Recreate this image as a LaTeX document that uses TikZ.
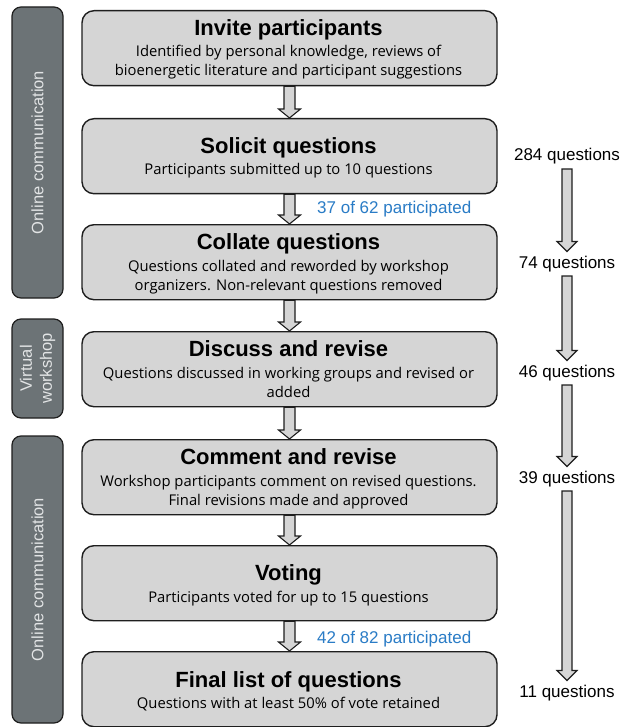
\documentclass[tikz,border=0pt]{standalone}
\usepackage{fontspec}
\setmainfont{Open Sans}
\newfontfamily\arialfont{Liberation Sans}
\usetikzlibrary{calc}
\definecolor{boxfill}{HTML}{D5D5D5}
\definecolor{boxline}{HTML}{1E1E1E}
\definecolor{sidefill}{HTML}{6C7376}
\definecolor{sidetext}{HTML}{E2E4E5}
\definecolor{bluetxt}{HTML}{2A7CC6}
\definecolor{arrowfill}{HTML}{D5D5D5}
\tikzset{
  stage/.style={draw=boxline, fill=boxfill, line width=1.4pt, rounded corners=12pt,
    minimum width=415pt, minimum height=75pt, inner sep=0pt, anchor=north},
  sidebar/.style={draw=boxline, fill=sidefill, line width=1.2pt, rounded corners=9pt,
    inner sep=0pt, minimum width=51pt},
  sidelabel/.style={text=sidetext, font=\arialfont\fontsize{16.5}{20}\selectfont,
    rotate=90, align=center, inner sep=0pt},
  title/.style={anchor=base, font=\arialfont\bfseries\fontsize{22}{26}\selectfont, inner sep=0pt},
  desc/.style={anchor=base, font=\fontsize{14.8}{19.5}\selectfont, inner sep=0pt},
  count/.style={anchor=base, font=\arialfont\fontsize{17}{20}\selectfont, inner sep=0pt,
    text height=12.5pt, text depth=4pt, outer ysep=4pt},
  partic/.style={anchor=base west, text=bluetxt, font=\arialfont\fontsize{17}{20}\selectfont, inner sep=0pt},
  barrow/.style={draw=boxline, fill=arrowfill, line width=1.1pt, line join=miter},
}
% #1 from, #2 to, #3 shaft half width, #4 head half width, #5 head length
\newcommand{\flowarrow}[5]{%
  \draw[barrow] let \p1=(#1), \p2=(#2) in
    (\x1-#3,\y1) -- (\x1-#3,\y2+#5) -- (\x1-#4,\y2+#5) -- (\x1,\y2)
    -- (\x1+#4,\y2+#5) -- (\x1+#3,\y2+#5) -- (\x1+#3,\y1) -- cycle;}
\begin{document}
\begin{tikzpicture}[x=1pt, y=-1pt]
\useasboundingbox (0,0) rectangle (621,727);
\fill[white] (0,0) rectangle (621,727);

% side bars
\node[sidebar, minimum height=291pt] (sb1) at (37.5,152.5) {};
\node[sidebar, minimum height=99pt] (sb2) at (37.5,368.5) {};
\node[sidebar, minimum height=287pt] (sb3) at (37.5,579.5) {};
\node[sidelabel] (sl1) at (sb1.center) {Online communication};
\node[sidelabel] (sl2) at (sb2.center) {Virtual\\workshop};
\node[sidelabel] (sl3) at (sb3.center) {Online communication};

% stages
\node[stage] (b1) at (289.5,10) {};
\node[title] (t1) at ($(b1.north)+(-1,26)$) {Invite participants};
\node[desc] (d1a) at ($(b1.north)+(-1,47)$) {Identified by personal knowledge, reviews of};
\node[desc] (d1b) at ($(b1.north)+(-1,66)$) {bioenergetic literature and participant suggestions};

\node[stage] (b2) at (289.5,118) {};
\node[title] (t2) at ($(b2.north)+(-1,35.5)$) {Solicit questions};
\node[desc] (d2a) at ($(b2.north)+(-1,57)$) {Participants submitted up to 10 questions};

\node[stage] (b3) at (289.5,224) {};
\node[title] (t3) at ($(b3.north)+(-1,25.5)$) {Collate questions};
\node[desc] (d3a) at ($(b3.north)+(-1,47)$) {Questions collated and reworded by workshop};
\node[desc] (d3b) at ($(b3.north)+(-1,66.5)$) {organizers. Non-relevant questions removed};

\node[stage] (b4) at (289.5,331) {};
\node[title] (t4) at ($(b4.north)+(-1,25.5)$) {Discuss and revise};
\node[desc] (d4a) at ($(b4.north)+(-1,47)$) {Questions discussed in working groups and revised or};
\node[desc] (d4b) at ($(b4.north)+(-1,66.5)$) {added};

\node[stage] (b5) at (289.5,439) {};
\node[title] (t5) at ($(b5.north)+(-1,25.5)$) {Comment and revise};
\node[desc] (d5a) at ($(b5.north)+(-1,47)$) {Workshop participants comment on revised questions.};
\node[desc] (d5b) at ($(b5.north)+(-1,66.5)$) {Final revisions made and approved};

\node[stage] (b6) at (289.5,545) {};
\node[title] (t6) at ($(b6.north)+(-1,35.5)$) {Voting};
\node[desc] (d6a) at ($(b6.north)+(-1,57)$) {Participants voted for up to 15 questions};

\node[stage] (b7) at (289.5,651) {};
\node[title] (t7) at ($(b7.north)+(-1,36)$) {Final list of questions};
\node[desc] (d7a) at ($(b7.north)+(-1,57.5)$) {Questions with at least 50\% of vote retained};

% arrows between stages
\flowarrow{b1.south}{b2.north}{5.5pt}{11pt}{9pt}
\flowarrow{b2.south}{b3.north}{5.5pt}{11pt}{9pt}
\flowarrow{b3.south}{b4.north}{5.5pt}{11pt}{9pt}
\flowarrow{b4.south}{b5.north}{5.5pt}{11pt}{9pt}
\flowarrow{b5.south}{b6.north}{5.5pt}{11pt}{9pt}
\flowarrow{b6.south}{b7.north}{5.5pt}{11pt}{9pt}

% participation labels
\node[partic] (p1) at (317,214) {37 of 62 participated};
\node[partic] (p2) at (317,643) {42 of 82 participated};

% question counts
\node[count] (q1) at (567,161) {284 questions};
\node[count] (q2) at (567,268) {74 questions};
\node[count] (q3) at (567,377) {46 questions};
\node[count] (q4) at (567,483) {39 questions};
\node[count] (q5) at (567,697) {11 questions};
\flowarrow{q1.south}{q2.north}{5pt}{10pt}{10pt}
\flowarrow{q2.south}{q3.north}{5pt}{10pt}{10pt}
\flowarrow{q3.south}{q4.north}{5pt}{10pt}{10pt}
\flowarrow{q4.south}{q5.north}{5pt}{10pt}{10pt}
\end{tikzpicture}
\end{document}
